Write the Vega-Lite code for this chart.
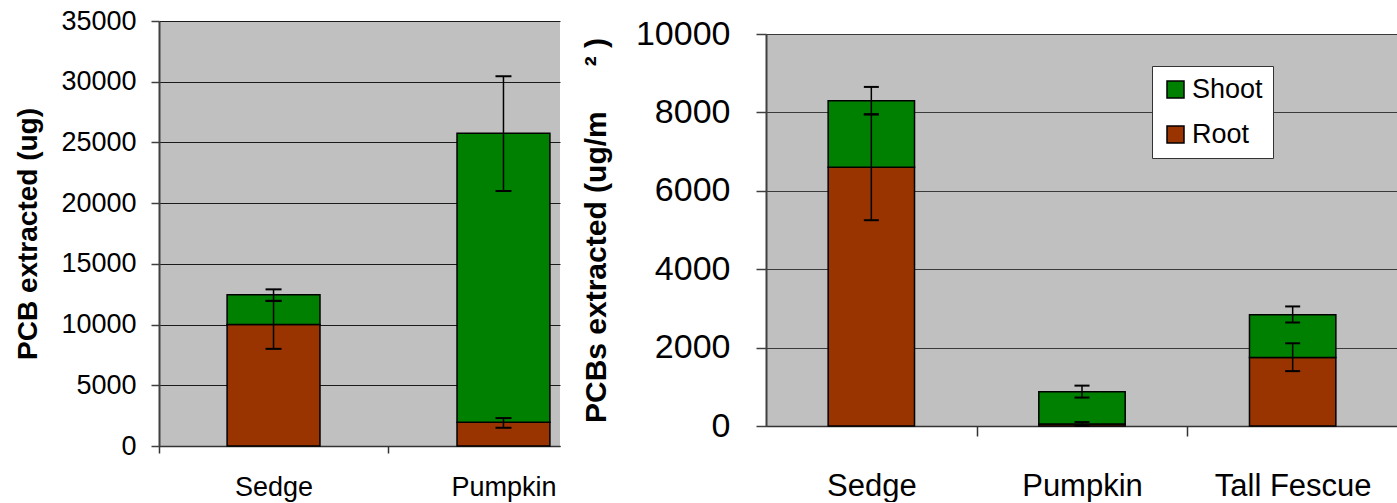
{
  "$schema": "https://vega.github.io/schema/vega-lite/v6.json",
  "background": "white",
  "padding": {"left": 14, "top": 7, "right": 0, "bottom": 0},
  "spacing": 20,
  "resolve": {"scale": {"color": "independent"}, "legend": {"color": "independent"}},
  "config": {
    "font": "Liberation Sans",
    "view": {"stroke": null},
    "axis": {"labelColor": "black", "titleColor": "black", "labelFont": "Liberation Sans", "titleFont": "Liberation Sans"}
  },
  "datasets": {
    "left": [
      {"plant": "Sedge", "part": "Root", "value": 10000, "lo": 8000, "hi": 11950},
      {"plant": "Sedge", "part": "Shoot", "value": 2450, "lo": 11950, "hi": 12900},
      {"plant": "Pumpkin", "part": "Root", "value": 1950, "lo": 1500, "hi": 2300},
      {"plant": "Pumpkin", "part": "Shoot", "value": 23800, "lo": 21000, "hi": 30450}
    ],
    "right": [
      {"plant": "Sedge", "part": "Root", "value": 6600, "lo": 5250, "hi": 7950},
      {"plant": "Sedge", "part": "Shoot", "value": 1700, "lo": 7950, "hi": 8650},
      {"plant": "Pumpkin", "part": "Root", "value": 50, "lo": 0, "hi": 100},
      {"plant": "Pumpkin", "part": "Shoot", "value": 825, "lo": 725, "hi": 1030},
      {"plant": "Tall Fescue", "part": "Root", "value": 1750, "lo": 1400, "hi": 2110},
      {"plant": "Tall Fescue", "part": "Shoot", "value": 1090, "lo": 2640, "hi": 3050}
    ]
  },
  "hconcat": [
    {
      "width": 401,
      "height": 425,
      "data": {"name": "left"},
      "view": {"fill": "#C0C0C0", "stroke": null},
      "encoding": {
        "x": {
          "field": "plant", "type": "nominal", "sort": ["Sedge", "Pumpkin"],
          "scale": {"paddingInner": 0.596, "paddingOuter": 0.17, "align": 0.871},
          "axis": {"title": null, "labelAngle": 0, "labelFontSize": 27, "tickOffset": -115, "labelOffset": 115,
                   "tickSize": 7, "labelPadding": 21, "domainColor": "#333", "domainWidth": 1.5, "tickColor": "#333", "tickWidth": 1.5, "grid": false}
        }
      },
      "layer": [
        {
          "mark": {"type": "bar", "stroke": "black", "strokeWidth": 1.5},
          "encoding": {
            "y": {
              "field": "value", "type": "quantitative", "stack": "zero",
              "scale": {"domain": [0, 35000], "nice": false},
              "axis": {"title": "PCB extracted (ug)", "titleFontSize": 28, "titleFontWeight": "bold", "titlePadding": 18,
                       "values": [0, 5000, 10000, 15000, 20000, 25000, 30000, 35000], "format": "d",
                       "labelFontSize": 27, "tickSize": 8, "labelPadding": 15, "grid": true, "gridColor": "#1a1a1a", "gridWidth": 1,
                       "domainColor": "#404040", "domainWidth": 2, "tickColor": "#404040", "tickWidth": 1.5}
            },
            "color": {"field": "part", "type": "nominal", "scale": {"domain": ["Shoot", "Root"], "range": ["#008000", "#993300"]}, "legend": null},
            "order": {"field": "part", "sort": "ascending"}
          }
        },
        {
          "mark": {"type": "rule", "stroke": "black", "strokeWidth": 1.5},
          "encoding": {"y": {"field": "lo", "type": "quantitative"}, "y2": {"field": "hi"}}
        },
        {
          "mark": {"type": "tick", "color": "black", "thickness": 2, "size": 16, "opacity": 1},
          "encoding": {"y": {"field": "lo", "type": "quantitative"}}
        },
        {
          "mark": {"type": "tick", "color": "black", "thickness": 2, "size": 16, "opacity": 1},
          "encoding": {"y": {"field": "hi", "type": "quantitative"}}
        }
      ]
    },
    {
      "spacing": 0,
      "bounds": "flush",
      "vconcat": [
        {
          "width": 632,
          "height": 13,
          "data": {"values": [{}]},
          "view": {"stroke": null},
          "mark": {"type": "point", "opacity": 0},
          "encoding": {}
        },
        {
          "width": 632,
          "height": 392,
          "data": {"name": "right"},
          "view": {"fill": "#C0C0C0", "stroke": "#808080"},
          "encoding": {
            "x": {
              "field": "plant", "type": "nominal", "sort": ["Sedge", "Pumpkin", "Tall Fescue"],
              "scale": {"paddingInner": 0.59, "paddingOuter": 0.295},
              "axis": {"title": null, "labelAngle": 0, "labelFontSize": 31, "tickOffset": 105.3, "labelOffset": -105.3,
                       "tickSize": 10, "labelPadding": 35, "domainColor": "#333", "domainWidth": 1.5, "tickColor": "#333", "tickWidth": 1.5, "grid": false}
            }
          },
          "layer": [
            {
              "mark": {"type": "bar", "stroke": "black", "strokeWidth": 1.5},
              "encoding": {
                "y": {
                  "field": "value", "type": "quantitative", "stack": "zero",
                  "scale": {"domain": [0, 10000], "nice": false},
                  "axis": {"title": "PCBs extracted (ug/m\u2002\u2002\u2002² )", "titleFontSize": 30, "titleFontWeight": "bold", "titlePadding": 24, "titleLimit": 1000,
                           "values": [0, 2000, 4000, 6000, 8000, 10000], "format": "d",
                           "labelFontSize": 34, "tickSize": 10, "labelPadding": 26, "grid": true, "gridColor": "#3a3a3a", "gridWidth": 1.2,
                           "domainColor": "#404040", "domainWidth": 2, "tickColor": "#404040", "tickWidth": 1.5}
                },
                "color": {
                  "field": "part", "type": "nominal",
                  "scale": {"domain": ["Shoot", "Root"], "range": ["#008000", "#993300"]},
                  "legend": {"orient": "none", "legendX": 386, "legendY": 45, "title": null, "fillColor": "white", "strokeColor": "#333",
                             "padding": 10, "labelFontSize": 27, "labelColor": "black", "symbolType": "square", "symbolSize": 289,
                             "symbolStrokeColor": "black", "symbolStrokeWidth": 1.5, "symbolOpacity": 1, "rowPadding": 17, "labelOffset": 3}
                },
                "order": {"field": "part", "sort": "ascending"}
              }
            },
            {
              "mark": {"type": "rule", "stroke": "black", "strokeWidth": 1.5},
              "encoding": {"y": {"field": "lo", "type": "quantitative"}, "y2": {"field": "hi"}}
            },
            {
              "mark": {"type": "tick", "color": "black", "thickness": 2, "size": 15, "opacity": 1},
              "encoding": {"y": {"field": "lo", "type": "quantitative"}}
            },
            {
              "mark": {"type": "tick", "color": "black", "thickness": 2, "size": 15, "opacity": 1},
              "encoding": {"y": {"field": "hi", "type": "quantitative"}}
            }
          ]
        }
      ]
    }
  ]
}
